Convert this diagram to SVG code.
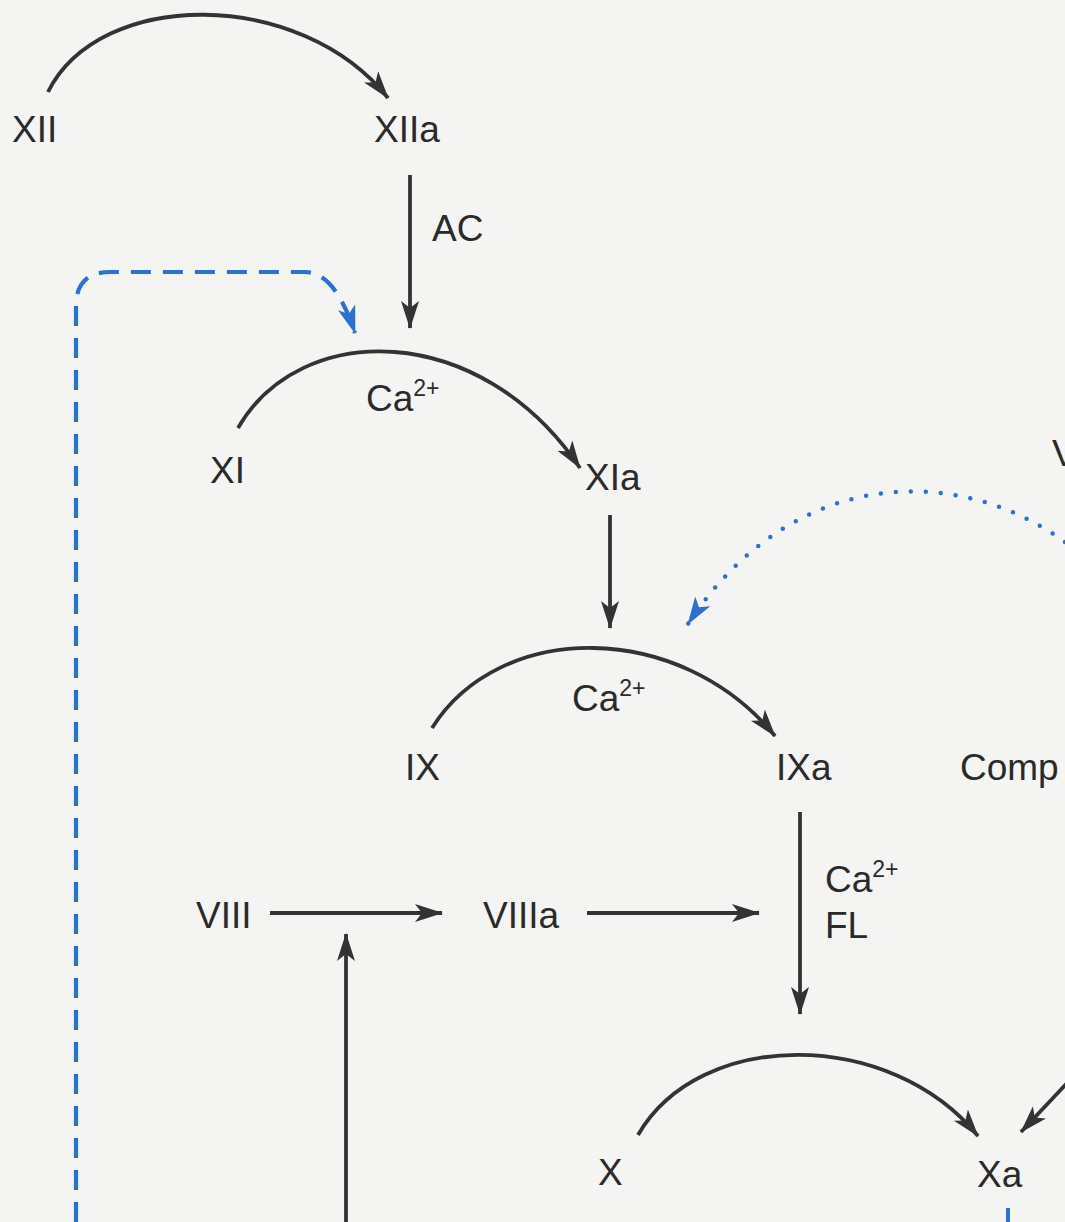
<svg xmlns="http://www.w3.org/2000/svg" width="1065" height="1222" viewBox="0 0 1065 1222">
<defs>
<style>
.t{font-family:"Liberation Sans",Arial,sans-serif;font-size:37px;fill:#2a2a2a}
.s{font-size:23px}
.ln{fill:none;stroke:#333;stroke-width:3.8}
.bd{fill:none;stroke:#2b70d2;stroke-width:4.2;stroke-dasharray:20 12}
.bo{fill:none;stroke:#2b70d2;stroke-width:4.5;stroke-dasharray:0 15;stroke-linecap:round}
</style>
<marker id="ah" markerUnits="userSpaceOnUse" markerWidth="30" markerHeight="20" refX="27" refY="10" orient="auto" viewBox="0 0 30 20">
<path d="M0,1 L28,10 L0,19 L7,10 z" fill="#333"/>
</marker>
<marker id="ab" markerUnits="userSpaceOnUse" markerWidth="30" markerHeight="20" refX="27" refY="10" orient="auto" viewBox="0 0 30 20">
<path d="M0,1 L28,10 L0,19 L7,10 z" fill="#2b70d2"/>
</marker>
</defs>
<rect width="1065" height="1222" fill="#f4f4f2"/>
<g id="connectors">
<path class="ln" d="M48,92 C100,-12 300,-12 388,98" marker-end="url(#ah)"/>
<path class="ln" d="M410,175 V328" marker-end="url(#ah)"/>
<path class="ln" d="M238,428 C300,320 480,320 580,468" marker-end="url(#ah)"/>
<path class="ln" d="M610,515 V628" marker-end="url(#ah)"/>
<path class="ln" d="M432,728 C500,620 680,620 775,736" marker-end="url(#ah)"/>
<path class="ln" d="M800,812 V1014" marker-end="url(#ah)"/>
<path class="ln" d="M270,913 H442" marker-end="url(#ah)"/>
<path class="ln" d="M587,913 H759" marker-end="url(#ah)"/>
<path class="ln" d="M346,1222 V934" marker-end="url(#ah)"/>
<path class="ln" d="M638,1135 C700,1028 890,1028 978,1136" marker-end="url(#ah)"/>
<path class="ln" d="M1068,1082 L1021,1132" marker-end="url(#ah)"/>
<path class="bd" d="M76,1222 V306 Q76,272 110,272 H305 Q335,272 355,333" marker-end="url(#ab)"/>
<path class="bo" d="M1065,542 C955,462 790,468 688,624" marker-end="url(#ab)"/>
<path d="M1008,1208 V1222" stroke="#2b70d2" stroke-width="4"/>
</g>
<g id="n-xii"><text class="t" x="12" y="142">XII</text></g>
<g id="n-xiia"><text class="t" x="374" y="142">XIIa</text></g>
<g id="l-ac"><text class="t" x="432" y="241">AC</text></g>
<g id="n-xi"><text class="t" x="210" y="483">XI</text></g>
<g id="l-ca1"><text class="t" x="366" y="411">Ca<tspan class="s" dy="-15">2+</tspan></text></g>
<g id="n-xia"><text class="t" x="585" y="490">XIa</text></g>
<g id="n-v"><text class="t" x="1052" y="466">V</text></g>
<g id="n-ix"><text class="t" x="405" y="780">IX</text></g>
<g id="l-ca2"><text class="t" x="572" y="711">Ca<tspan class="s" dy="-15">2+</tspan></text></g>
<g id="n-ixa"><text class="t" x="776" y="780">IXa</text></g>
<g id="n-comp"><text class="t" x="960" y="780">Comp</text></g>
<g id="l-cafl"><text class="t" x="825" y="892">Ca<tspan class="s" dy="-15">2+</tspan></text><text class="t" x="825" y="938">FL</text></g>
<g id="n-viii"><text class="t" x="196" y="928">VIII</text></g>
<g id="n-viiia"><text class="t" x="483" y="928">VIIIa</text></g>
<g id="n-x"><text class="t" x="598" y="1185">X</text></g>
<g id="n-xa"><text class="t" x="977" y="1187">Xa</text></g>
</svg>
